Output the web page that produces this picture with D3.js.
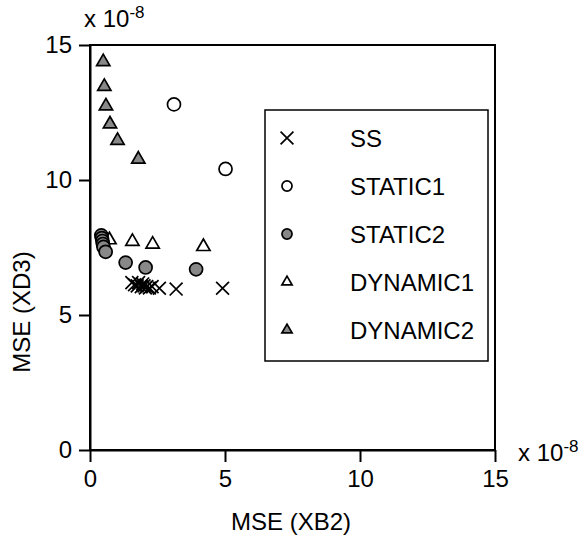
<!DOCTYPE html>
<html>
<head>
<meta charset="utf-8">
<script src="https://cdn.jsdelivr.net/npm/d3@7"></script>
<style>
  body { margin: 0; background: #fff; }
  text { font-family: "Liberation Sans", Arial, sans-serif; fill: #000; }
</style>
</head>
<body>
<div id="container"></div>
<script>
// values in units of 1e-8 : [MSE(XB2), MSE(XD3)]
const ss = [
    [1.55, 6.2], [1.65, 6.12], [1.75, 6.08], [1.8, 6.2], [1.9, 6.05],
    [1.95, 6.15], [2.0, 6.08], [2.05, 6.0], [2.1, 6.05], [2.2, 6.0],
    [2.3, 6.05], [2.57, 5.99], [3.19, 5.96], [4.91, 5.99]
];
const static1 = [[3.11, 12.8], [5.02, 10.41]];
const static2 = [
    [0.42, 7.95], [0.44, 7.85], [0.46, 7.74], [0.48, 7.63], [0.5, 7.52],
    [0.58, 7.34], [1.32, 6.94], [2.06, 6.76], [3.93, 6.69]
];
const dynamic1 = [[0.72, 7.78], [1.57, 7.72], [2.32, 7.62], [4.2, 7.53]];
const dynamic2 = [
    [0.49, 14.38], [0.53, 13.46], [0.59, 12.74], [0.74, 12.07],
    [1.02, 11.46], [1.79, 10.77]
];

const xTicks = [0, 5, 10, 15];
const yTicks = [0, 5, 10, 15];
const legendNames = ['SS', 'STATIC1', 'STATIC2', 'DYNAMIC1', 'DYNAMIC2'];

// chart dimensions
const w = 581;
const h = 536;
const plotLeft = 90, plotRight = 495, plotTop = 45, plotBottom = 450;
const grey = '#888888';
const fs = 24;

const xScale = d3.scaleLinear().domain([0, 15]).range([plotLeft, plotRight]);
const yScale = d3.scaleLinear().domain([0, 15]).range([plotBottom, plotTop]);

const svg = d3.select('#container')
    .append('svg')
    .attr('width', w)
    .attr('height', h);

// marker styles (legend size = size * legendScale)
const styles = {
    SS:       { type: d3.symbolTimes,    size: 110, legendScale: 1.0, fill: 'none' },
    STATIC1:  { type: d3.symbolCircle,   size: 133, legendScale: 0.6, fill: '#fff' },
    STATIC2:  { type: d3.symbolCircle,   size: 133, legendScale: 0.6, fill: grey },
    DYNAMIC1: { type: d3.symbolTriangle, size: 76,  legendScale: 0.6, fill: '#fff' },
    DYNAMIC2: { type: d3.symbolTriangle, size: 76,  legendScale: 0.6, fill: grey }
};
const seriesData = {
    SS: ss, STATIC1: static1, STATIC2: static2, DYNAMIC1: dynamic1, DYNAMIC2: dynamic2
};

// frame
svg.append('rect')
    .attr('x', plotLeft).attr('y', plotTop)
    .attr('width', plotRight - plotLeft).attr('height', plotBottom - plotTop)
    .attr('fill', 'none').attr('stroke', '#000').attr('stroke-width', 2);

// axes
const xAxis = d3.axisBottom(xScale).tickValues(xTicks).tickSize(12).tickPadding(8).tickSizeOuter(0);
const yAxis = d3.axisLeft(yScale).tickValues(yTicks).tickSize(11).tickPadding(7).tickSizeOuter(0);

const gx = svg.append('g')
    .attr('transform', `translate(0, ${plotBottom})`)
    .call(xAxis);
const gy = svg.append('g')
    .attr('transform', `translate(${plotLeft}, 0)`)
    .call(yAxis);

[gx, gy].forEach(g => {
    g.select('.domain').attr('stroke-width', 2);
    g.selectAll('.tick line').attr('stroke-width', 2);
    g.selectAll('.tick text')
        .attr('font-size', fs)
        .attr('font-family', '"Liberation Sans", Arial, sans-serif');
});

// exponent labels
function expLabel(x, y) {
    const t = svg.append('text').attr('x', x).attr('y', y).attr('font-size', fs);
    t.append('tspan').text('x 10');
    t.append('tspan').attr('font-size', 17).attr('dy', -9).text('-8');
}
expLabel(84, 27);
expLabel(518, 461);

// axis titles
svg.append('text')
    .attr('x', 291).attr('y', 530)
    .attr('text-anchor', 'middle')
    .attr('font-size', fs)
    .text('MSE (XB2)');

svg.append('text')
    .attr('transform', 'translate(30, 312) rotate(-90)')
    .attr('text-anchor', 'middle')
    .attr('font-size', fs)
    .text('MSE (XD3)');

// points
const drawOrder = ['DYNAMIC1', 'DYNAMIC2', 'STATIC1', 'STATIC2', 'SS'];
drawOrder.forEach(name => {
    const s = styles[name];
    svg.append('g')
        .selectAll('path')
        .data(seriesData[name])
        .join('path')
        .attr('transform', d => `translate(${xScale(d[0])}, ${yScale(d[1])})`)
        .attr('d', d3.symbol().type(s.type).size(s.size))
        .attr('fill', s.fill)
        .attr('stroke', '#000')
        .attr('stroke-width', 1.7);
});

// legend
const legend = svg.append('g');
legend.append('rect')
    .attr('x', 265).attr('y', 110)
    .attr('width', 223).attr('height', 251)
    .attr('fill', '#fff').attr('stroke', '#000').attr('stroke-width', 1.5);

const item = legend.selectAll('g.item')
    .data(legendNames)
    .join('g')
    .attr('class', 'item')
    .attr('transform', (d, i) => `translate(287, ${138 + i * 48})`);

item.append('path')
    .attr('d', d => d3.symbol().type(styles[d].type).size(styles[d].size * styles[d].legendScale)())
    .attr('fill', d => styles[d].fill)
    .attr('stroke', '#000')
    .attr('stroke-width', 1.7);

item.append('text')
    .attr('x', 63).attr('y', 9)
    .attr('font-size', fs)
    .text(d => d);
</script>
</body>
</html>
